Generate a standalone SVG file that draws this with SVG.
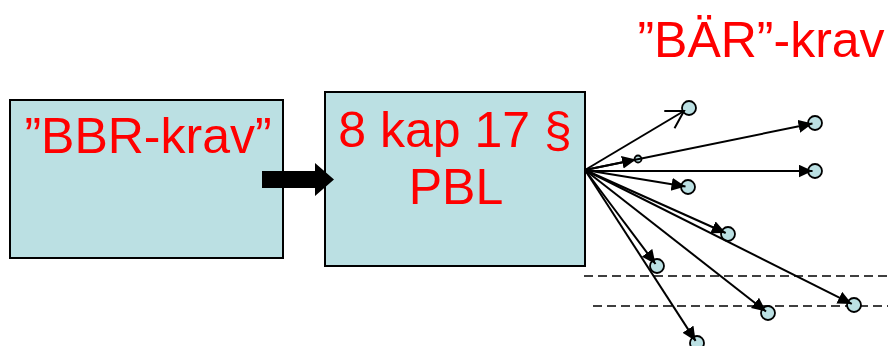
<svg xmlns="http://www.w3.org/2000/svg" width="888" height="346" viewBox="0 0 888 346">
<style>
.box{fill:#BBE0E3;stroke:#000;stroke-width:2}
.lbl{font-family:"Liberation Sans",Arial,sans-serif;font-size:50px;fill:#FF0000;text-anchor:middle}
.dot{fill:#BBE0E3;stroke:#000;stroke-width:1.8}
.con{stroke:#000;stroke-width:2;fill:none;marker-end:url(#ah)}
.dash{stroke:#000;stroke-width:1.6;stroke-dasharray:9 5;fill:none}
</style>
<defs>
<marker id="ah" markerUnits="userSpaceOnUse" markerWidth="16" markerHeight="14" refX="14" refY="6.5" orient="auto">
<path d="M0,0 L14,6.5 L0,13 Z" fill="#000"/>
</marker>
<marker id="ao" markerUnits="userSpaceOnUse" markerWidth="22" markerHeight="24" refX="19" refY="12" orient="auto">
<path d="M2,2 L19,12 L2,22" fill="none" stroke="#000" stroke-width="2"/>
</marker>
</defs>
<rect width="888" height="346" fill="#fff"/>
<g id="dashes">
<line class="dash" x1="584" y1="276" x2="888" y2="276"/>
<line class="dash" x1="593" y1="306" x2="888" y2="306"/>
</g>
<g id="bbr">
<rect class="box" x="10" y="100" width="273" height="158"/>
<text class="lbl" x="148" y="153">”BBR-krav”</text>
</g>
<g id="pbl">
<rect class="box" x="325" y="92" width="260" height="174"/>
<text class="lbl" x="455" y="147">8 kap 17 §</text>
<text class="lbl" x="456" y="204">PBL</text>
</g>
<g id="bar-title">
<text class="lbl" x="761" y="57">”BÄR”-krav</text>
</g>
<g id="c1"><circle class="dot" cx="689" cy="108" r="7"/></g>
<g id="c2"><circle class="dot" cx="815" cy="123" r="7"/></g>
<g id="c3"><circle class="dot" cx="638" cy="159" r="3.5"/></g>
<g id="c4"><circle class="dot" cx="815" cy="171" r="7"/></g>
<g id="c5"><circle class="dot" cx="688" cy="187" r="7"/></g>
<g id="c6"><circle class="dot" cx="728" cy="234" r="7"/></g>
<g id="c7"><circle class="dot" cx="657" cy="266" r="7"/></g>
<g id="c8"><circle class="dot" cx="768" cy="313" r="7"/></g>
<g id="c9"><circle class="dot" cx="854" cy="305" r="7"/></g>
<g id="c10"><circle class="dot" cx="697" cy="343" r="7"/></g>
<g id="connectors">
<polygon points="262,171 315,171 315,163 334,179.5 315,196 315,188 262,188" fill="#000"/>
<line x1="585" y1="170" x2="684" y2="111" stroke="#000" stroke-width="2" marker-end="url(#ao)"/>
<line class="con" x1="585" y1="170" x2="812.5" y2="123.5"/>
<line class="con" x1="585" y1="170" x2="636" y2="159.4"/>
<line class="con" x1="585" y1="171" x2="812.5" y2="171"/>
<line class="con" x1="585" y1="170" x2="685.5" y2="186.6"/>
<line class="con" x1="585" y1="170" x2="725.7" y2="233"/>
<line class="con" x1="585" y1="170" x2="655.5" y2="264"/>
<line class="con" x1="585" y1="170" x2="766" y2="311.5"/>
<line class="con" x1="585" y1="170" x2="851.8" y2="303.9"/>
<line class="con" x1="585" y1="170" x2="695.6" y2="340.9"/>
</g>
</svg>
